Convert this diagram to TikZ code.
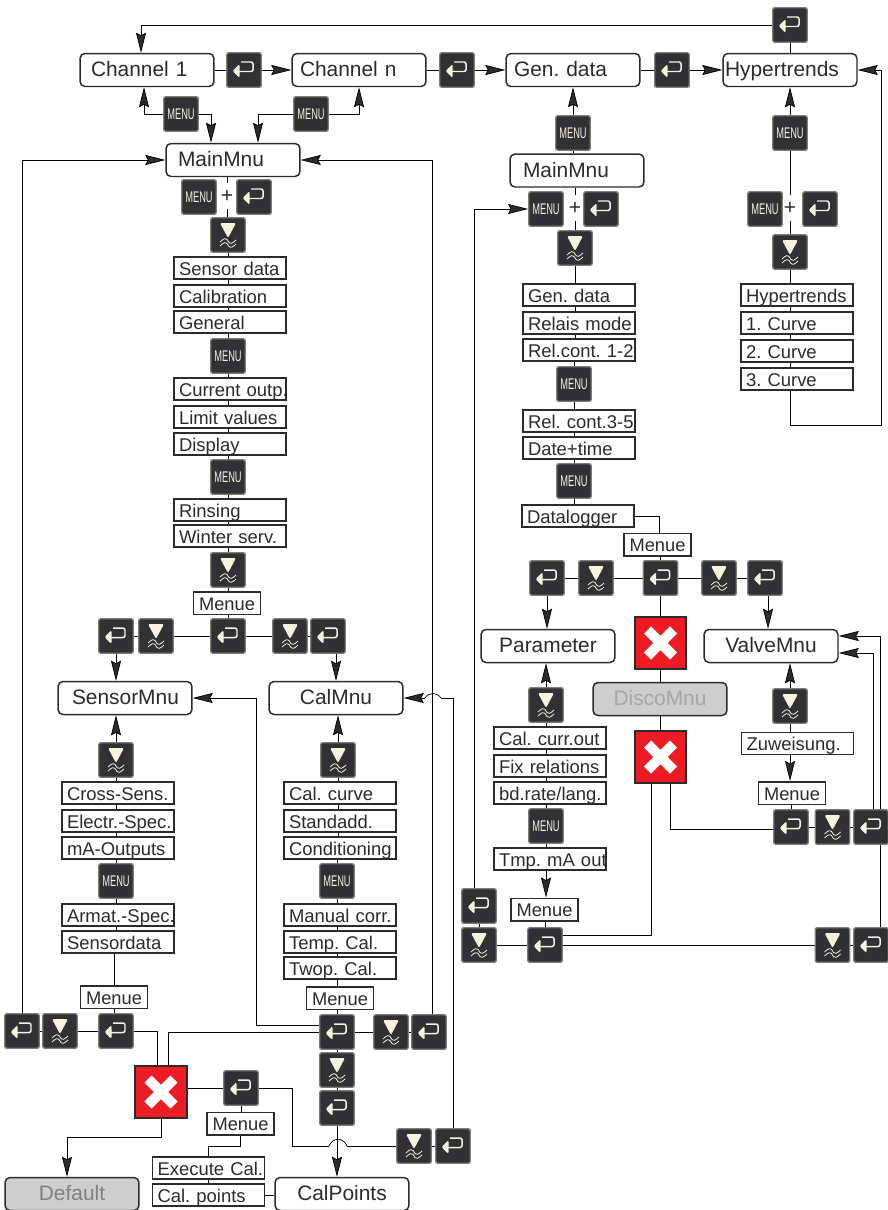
\documentclass[tikz,border=0pt]{standalone}
\usepackage{fontspec}
\setmainfont{Liberation Sans}
\usetikzlibrary{calc}
\usetikzlibrary{arrows.meta}
\usetikzlibrary{backgrounds}

\definecolor{keyfill}{HTML}{303035}
\definecolor{keyedge}{HTML}{7E7E74}
\definecolor{keycream}{HTML}{F6F4DF}
\definecolor{linegray}{HTML}{2B2B2B}
\definecolor{stopred}{HTML}{ED1C24}
\definecolor{offfill}{HTML}{CDCED0}

\newcommand{\menutxt}{\scalebox{0.6}[1]{MENU}}
\newcommand{\tie}[2]{\draw (#1.center) -- (#1.center |- #2.center);}
\frenchspacing

\begin{document}
\begin{tikzpicture}
  [x = 0.02cm, y = -0.02cm, line width = 0.85pt, draw = linegray,
   flow/.style = {-{Stealth[length = 0.4cm, width = 0.2cm, inset = 0.05cm]}},
   keybtn/.style = {draw = keyedge, line width = 0.8pt, fill = keyfill, rounded corners = 0.04cm,
     minimum size = 0.69cm, inner sep = 0},
   enterkey/.style = {keybtn, path picture = {
     \begin{scope}[shift = {(path picture bounding box.center)}]
       \fill [keycream] (-11.5, 1) -- (-4.5, -6) -- (-4.5, 8) -- cycle;
       \draw [keycream, line width = 0.85pt] (-5, 1.5) -- (9, 1.5) -- (9, -8) -- (-3, -8);
     \end{scope}}},
   downkey/.style = {keybtn, path picture = {
     \begin{scope}[shift = {(path picture bounding box.center)}]
       \fill [keycream] (-8, -12) -- (8, -12) -- (0, 3) -- cycle;
       \draw [keycream, line width = 0.45pt] (-8, 7) .. controls (-4, 3) and (-2, 3) .. (0, 6) .. controls (2, 9) and (4, 9) .. (8, 5);
       \draw [keycream, line width = 0.45pt] (-8, 11) .. controls (-4, 7) and (-2, 7) .. (0, 10) .. controls (2, 13) and (4, 13) .. (8, 9);
     \end{scope}}},
   menukey/.style = {keybtn, text = keycream, font = \fontsize{8.8}{10}\selectfont},
   stopkey/.style = {draw = linegray, line width = 1pt, fill = stopred, minimum size = 1.03cm, inner sep = 0,
     path picture = {
     \begin{scope}[shift = {(path picture bounding box.center)}]
       \draw [white, line width = 0.2cm] (-13, -13) -- (13, 13);
       \draw [white, line width = 0.2cm] (-13, 13) -- (13, -13);
     \end{scope}}},
   roundbox/.style = {draw, fill = white, rounded corners = 0.1cm, minimum width = 2.68cm, minimum height = 0.66cm,
     inner ysep = 0, text height = 10pt, text depth = 2.4pt, font = \fontsize{11.9}{14}\selectfont, text = linegray},
   padbox/.style = {roundbox, inner xsep = #1, text width = 2.68cm - 2*#1, align = left},
   graybox/.style = {roundbox, fill = offfill},
   itembox/.style = {draw, fill = white, inner sep = 0, text width = 2.24cm, align = left,
     execute at begin node = {\hspace*{0.1cm}},
     minimum height = 0.44cm, text height = 10pt, text depth = 2pt, font = \fontsize{10.5}{12}\selectfont, text = linegray},
   menuebox/.style = {draw, fill = white, inner sep = 0, minimum width = 1.34cm, minimum height = 0.45cm,
     text height = 10pt, text depth = 2pt, font = \fontsize{10.4}{12}\selectfont, text = linegray},
   plussign/.style = {inner sep = 0, minimum size = 0.48cm, font = \fontsize{12}{14}\selectfont, text = linegray}]

  \useasboundingbox (0, 0) rectangle (887, 1210);

  % top row
  \node [enterkey] (entop) at (790, 25) {};
  \node [padbox = 0.22cm] (ch1) at (147, 70) {Channel 1};
  \node [enterkey] (e1) at (244, 70) {};
  \node [padbox = 0.16cm] (chn) at (359, 70) {Channel n};
  \node [enterkey] (e2) at (457, 70) {};
  \node [padbox = 0.16cm] (gen) at (573, 70) {Gen. data};
  \node [enterkey] (e3) at (672, 70) {};
  \node [padbox = 0.04cm] (hyper) at (790, 70) {Hypertrends};
  \node [menukey] (m1) at (181, 114) {\menutxt};
  \node [menukey] (m2) at (311, 114) {\menutxt};

  % sensor and calibration side
  \node [padbox = 0.24cm] (main) at (233, 160) {MainMnu};
  \node [menukey] (mk1) at (199, 197) {\menutxt};
  \node [plussign] (plus1) at (227, 196) {+};
  \node [enterkey] (ek1) at (254, 197) {};
  \node [downkey] (dn1) at (228, 235) {};
  \node [itembox] (b1) at (230, 268) {Sensor data};
  \node [itembox] (b2) at (230, 296) {Calibration};
  \node [itembox] (b3) at (230, 322) {General};
  \node [menukey] (mb1) at (228, 356) {\menutxt};
  \node [itembox] (b4) at (230, 389) {\mbox{Current outp.}};
  \node [itembox] (b5) at (230, 417) {Limit values};
  \node [itembox] (b6) at (230, 444) {Display};
  \node [menukey] (mb2) at (228, 477) {\menutxt};
  \node [itembox] (b7) at (230, 510) {Rinsing};
  \node [itembox] (b8) at (230, 536) {Winter serv.};
  \node [downkey] (dn2) at (228, 570) {};
  \node [menuebox] (men1) at (227, 603) {Menue};
  \node [enterkey] (rw1) at (116, 636) {};
  \node [downkey] (rw2) at (156, 636) {};
  \node [enterkey] (rw3) at (228, 636) {};
  \node [downkey] (rw4) at (290, 636) {};
  \node [enterkey] (rw5) at (328, 636) {};

  \node [padbox = 0.28cm] (sens) at (125, 698) {SensorMnu};
  \node [roundbox] (cal) at (336, 698) {CalMnu};
  \node [downkey] (dnS) at (116, 760) {};
  \node [itembox] (s1) at (118, 793) {Cross-Sens.};
  \node [itembox] (s2) at (118, 821) {\mbox{Electr.-Spec.}};
  \node [itembox] (s3) at (118, 848) {mA-Outputs};
  \node [menukey] (mS) at (116, 881) {\menutxt};
  \node [itembox] (s4) at (118, 915) {\mbox{Armat.-Spec.}};
  \node [itembox] (s5) at (118, 942) {Sensordata};
  \node [menuebox] (men2) at (114, 997) {Menue};
  \node [enterkey] (ss1) at (22, 1031) {};
  \node [downkey] (ss2) at (60, 1031) {};
  \node [enterkey] (ss3) at (116, 1031) {};

  \node [downkey] (dnC) at (338, 760) {};
  \node [itembox] (c1) at (340, 793) {Cal. curve};
  \node [itembox] (c2) at (340, 821) {Standadd.};
  \node [itembox] (c3) at (340, 848) {Conditioning};
  \node [menukey] (mC) at (337, 881) {\menutxt};
  \node [itembox] (c4) at (340, 915) {Manual corr.};
  \node [itembox] (c5) at (340, 942) {Temp. Cal.};
  \node [itembox] (c6) at (340, 968) {Twop. Cal.};
  \node [menuebox] (men3) at (340, 998) {Menue};
  \node [enterkey] (cc1) at (337, 1032) {};
  \node [downkey] (cc2) at (391, 1032) {};
  \node [enterkey] (cc3) at (429, 1032) {};
  \node [downkey] (cd) at (337, 1070) {};
  \node [enterkey] (ce) at (337, 1108) {};

  \node [stopkey] (x1) at (161, 1092) {};
  \node [enterkey] (enX) at (241, 1088) {};
  \node [menuebox] (men4) at (240.5, 1123.5) {Menue};
  \node [itembox] (excal) at (208.5, 1168) {Execute Cal.};
  \node [itembox] (calp) at (208.5, 1195) {Cal. points};
  \node [graybox, text = gray] (dflt) at (72, 1194) {Default};
  \node [roundbox] (cpts) at (342, 1194) {CalPoints};
  \node [downkey] (dk) at (414, 1146) {};
  \node [enterkey] (ek) at (453, 1146) {};

  % general data side
  \node [menukey] (m3) at (573, 133) {\menutxt};
  \node [padbox = 0.26cm] (main2) at (577, 170.5) {MainMnu};
  \node [menukey] (mk2) at (546, 209) {\menutxt};
  \node [plussign] (plus2) at (575, 208) {+};
  \node [enterkey] (ek2) at (601, 209) {};
  \node [downkey] (dn3) at (575, 248) {};
  \node [itembox] (d1) at (579, 295) {Gen. data};
  \node [itembox] (d2) at (579, 323) {Relais mode};
  \node [itembox] (d3) at (579, 350) {\mbox{Rel.cont. 1-2}};
  \node [menukey] (m5) at (574, 384) {\menutxt};
  \node [itembox] (d4) at (579, 421) {\mbox{Rel. cont.3-5}};
  \node [itembox] (d5) at (579, 448) {Date+time};
  \node [menukey] (m6) at (574, 481) {\menutxt};
  \node [itembox] (dlog) at (578, 516) {Datalogger};
  \node [menuebox] (men5) at (657.5, 544.5) {Menue};
  \node [enterkey] (r1) at (547, 578) {};
  \node [downkey] (r2) at (596, 578) {};
  \node [enterkey] (r3) at (660.5, 578) {};
  \node [downkey] (r4) at (719, 578) {};
  \node [enterkey] (r5) at (765, 578) {};

  \node [roundbox] (par) at (548, 646) {Parameter};
  \node [stopkey] (x2) at (660.5, 643) {};
  \node [graybox, text = gray!70] (disco) at (660, 699) {DiscoMnu};
  \node [stopkey] (x3) at (660.5, 757) {};
  \node [roundbox] (valve) at (771, 646) {ValveMnu};

  \node [downkey] (dnP) at (546, 705) {};
  \node [itembox] (p1) at (550, 738) {\mbox{Cal. curr.out}};
  \node [itembox] (p2) at (550, 766) {Fix relations};
  \node [itembox] (p3) at (550, 793) {bd.rate/lang.};
  \node [menukey] (mP) at (546, 826) {\menutxt};
  \node [itembox] (p4) at (550, 859) {\mbox{Tmp. mA out}};
  \node [menuebox] (men6) at (544.5, 909.5) {Menue};
  \node [enterkey] (pu) at (479, 906) {};
  \node [downkey] (pd) at (479, 945) {};
  \node [enterkey] (pe) at (545, 945) {};
  \node [downkey] (q1) at (832.5, 945) {};
  \node [enterkey] (q2) at (871, 945) {};

  \node [downkey] (dnV) at (790, 706) {};
  \node [itembox] (zuw) at (797.5, 743.5) {Zuweisung.};
  \node [menuebox] (men7) at (792, 793) {Menue};
  \node [enterkey] (v1) at (791, 827) {};
  \node [downkey] (v2) at (832.5, 827) {};
  \node [enterkey] (v3) at (871, 827) {};

  % hypertrends side
  \node [menukey] (m4) at (790, 133) {\menutxt};
  \node [menukey] (mk3) at (765, 209) {\menutxt};
  \node [plussign] (plus3) at (790, 208) {+};
  \node [enterkey] (ek3) at (820, 209) {};
  \node [downkey] (dn4) at (790, 252) {};
  \node [itembox] (h1) at (797, 295) {Hypertrends};
  \node [itembox] (h2) at (797, 323) {1. Curve};
  \node [itembox] (h3) at (797, 351) {2. Curve};
  \node [itembox] (h4) at (797, 379) {3. Curve};

  \coordinate (hturn) at (881, 425);
  \coordinate (hopE) at (292, 1146);
  \coordinate (hopA) at (329, 1146);
  \coordinate (hopB) at (347, 1146);
  \coordinate (hopF) at (453, 698);
  \coordinate (hopC) at (441, 698);
  \coordinate (hopD) at (425, 698);

  \begin{scope}[on background layer]
    % top row
    \draw [flow] (entop.center) -| ([xshift = -0.12cm]ch1.north);
    \draw (entop.center) -- (hyper.north);
    \draw (ch1.east) -- (e1.west);
    \draw [flow] (e1.east) -- (chn.west);
    \draw (chn.east) -- (e2.west);
    \draw [flow] (e2.east) -- (gen.west);
    \draw (gen.east) -- (e3.west);
    \draw [flow] (e3.east) -- (hyper.west);
    \draw [flow] (m1.west) -| ([xshift = -0.06cm]ch1.south);
    \draw [flow] (m1.east) -| ([xshift = -0.44cm]main.north);
    \draw [flow] (m2.west) -| ([xshift = 0.5cm]main.north);
    \draw [flow] (m2.east) -| (chn.south);

    % main column
    \draw (plus1.north) -- (plus1.north |- main.south);
    \draw (plus1.south) -- (plus1.south |- dn1.north);
    \tie{dn1}{b3}
    \tie{mb1}{b3}
    \tie{mb1}{b6}
    \tie{mb2}{b6}
    \tie{mb2}{b8}
    \tie{dn2}{b8}
    \tie{dn2}{rw3}
    \draw (rw1.center) -- (rw5.center);
    \draw [flow] (rw1.south) -- (rw1.south |- sens.north);
    \draw [flow] ([xshift = 0.16cm]rw5.south) -- ([xshift = 0.16cm]rw5.south |- cal.north);

    % sensor column
    \draw [flow] (dnS.north) -- (dnS.north |- sens.south);
    \tie{dnS}{s3}
    \tie{mS}{s3}
    \tie{mS}{s5}
    \tie{men2}{s5}
    \tie{men2}{ss3}
    \draw (ss1.center) -- (ss3.center);
    \draw [flow] (ss1.north) |- (main.west);
    \draw (ss3.center) -| ([xshift = -0.08cm]x1.north);

    % calibration column
    \draw [flow] (dnC.north) -- (dnC.north |- cal.south);
    \tie{dnC}{c3}
    \tie{mC}{c3}
    \tie{mC}{c6}
    \tie{cc1}{c6}
    \tie{cc1}{ce}
    \draw (cc1.center) -- (cc3.center);
    \draw [flow] ([xshift = 0.07cm]cc3.north) |- (main.east);
    \draw [flow] ([yshift = 0.14cm]cc1.center) -- ++(-81, 0) |- (sens.east);
    \draw (cc1.center) -| ([xshift = 0.14cm]x1.north);
    \draw [flow] (ce.south) -- (ce.south |- cpts.north);

    % stop key and below
    \draw (x1.east |- enX.center) -- (enX.center);
    \draw (enX.center) -| (hopE);
    \draw (hopE) -- (hopA);
    \draw (hopA) .. controls (333, 1137) and (343, 1137) .. (hopB);
    \draw (hopB) -- (dk.center);
    \draw (dk.center) -- (ek.center);
    \draw (ek.center) -- (hopF);
    \draw (hopF) -- (hopC);
    \draw (hopC) .. controls (437, 692) and (429, 692) .. (hopD);
    \draw [flow] (hopD) -- (cal.east);
    \draw (enX.center) -- (enX.center |- men4.center);
    \draw (men4.south) -- ++(0, 11) -| (excal.north);
    \draw (excal.center) -- (calp.center);
    \draw (calp.east) -- (calp.east -| cpts.west);
    \draw [flow] (x1.south) -- ++(0, 19) -| ([xshift = -0.1cm]dflt.north);

    % general data column
    \draw [flow] (m3.north) -- (m3.north |- gen.south);
    \draw (m3.south) -- (m3.south |- main2.north);
    \draw (plus2.north) -- (plus2.north |- main2.south);
    \draw (plus2.south) -- (dn3.north);
    \tie{dn3}{d3}
    \tie{m5}{d3}
    \tie{m5}{d5}
    \tie{m6}{d5}
    \tie{m6}{dlog}
    \draw (dlog.east) -| ([xshift = 0.03cm]men5.north);
    \tie{r3}{men5}
    \draw (r1.center) -- (r5.center);
    \draw [flow] (r1.south) -- (r1.south |- par.north);
    \draw [flow] ([xshift = 0.06cm]r5.south) -- ([xshift = 0.06cm]r5.south |- valve.north);
    \tie{r3}{x3}

    % parameter column
    \draw [flow] (dnP.north) -- (dnP.north |- par.south);
    \tie{dnP}{p3}
    \tie{mP}{p3}
    \tie{mP}{p4}
    \draw [flow] (mP.center |- p4.south) -- (mP.center |- men6.north);
    \tie{pe}{men6}
    \draw (pd.center) -- (q2.center);
    \draw (pd.center) -- (pu.center);
    \draw [flow] ([xshift = -0.1cm]pu.north) |- (mk2.west);
    \draw ([xshift = -0.19cm]x3.south) |- ([yshift = 0.2cm]pe.center);
    \draw ([xshift = 0.19cm]x3.south) |- ([yshift = -0.04cm]v1.center);

    % valve column
    \draw [flow] (dnV.north) -- (dnV.north |- valve.south);
    \tie{dnV}{zuw}
    \draw [flow] (dnV.center |- zuw.south) -- (dnV.center |- men7.north);
    \tie{v1}{men7}
    \draw (v1.center) -- (v3.center);
    \draw [flow] ([xshift = 0.04cm]v3.north) |- ([yshift = -0.14cm]valve.east);
    \draw [flow] ([xshift = 0.18cm]q2.north) |- ([yshift = 0.2cm]valve.east);

    % hypertrends column
    \draw [flow] (m4.north) -- (m4.north |- hyper.south);
    \draw (m4.south) -- (m4.south |- plus3.north);
    \draw (plus3.south) -- (plus3.south |- dn4.north);
    \tie{dn4}{h4}
    \draw [flow] (dn4.center |- h4.center) |- (hturn) |- (hyper.east);
  \end{scope}
\end{tikzpicture}
\end{document}
